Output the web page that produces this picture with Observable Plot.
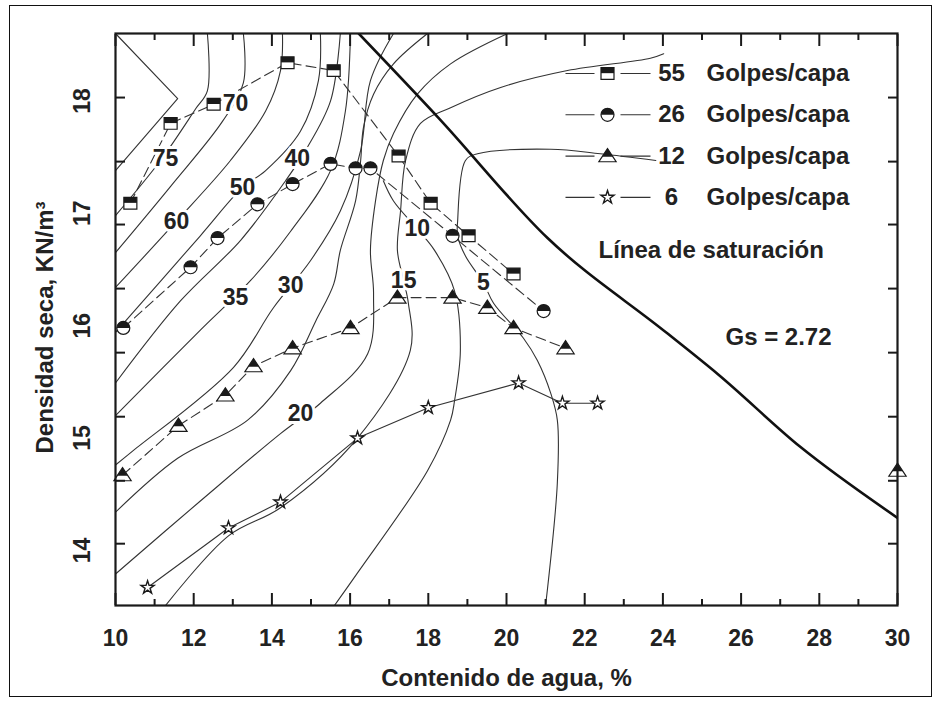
<!DOCTYPE html>
<html>
<head>
<meta charset="utf-8">
<script src="https://cdn.jsdelivr.net/npm/d3@7"></script>
<script src="https://cdn.jsdelivr.net/npm/@observablehq/plot@0.6"></script>
<style>
  body { margin: 0; background: #fff; }
  #wrap { position: relative; width: 939px; height: 704px; }
  #wrap .border { position: absolute; left: 9px; top: 5px; width: 923px; height: 692px;
    border: 1.5px solid #111; box-sizing: border-box; pointer-events: none; }
</style>
</head>
<body>
<div id="wrap"><div class="border"></div></div>
<script>
// Compaction curves: water content (%) vs dry unit weight (kN/m3)
const blows55 = [[10.38,17.09],[11.41,17.80],[12.51,17.97],[14.40,18.34],[15.58,18.27],[17.24,17.51],[18.06,17.09],[19.03,16.80],[20.18,16.46]];
const blows26 = [[10.20,15.98],[11.92,16.52],[12.61,16.78],[13.63,17.08],[14.53,17.26],[15.50,17.44],[16.14,17.40],[16.52,17.40],[18.62,16.80],[20.95,16.13]];
const blows12 = [[10.18,14.67],[11.61,15.11],[12.81,15.38],[13.53,15.64],[14.53,15.80],[16.01,15.98],[17.21,16.25],[18.62,16.25],[19.51,16.16],[20.18,15.98],[21.51,15.80]];
const blows12Edge = [[30.0,14.71]];
const blows6 = [[10.82,13.67],[12.89,14.20],[14.22,14.43],[16.19,15.00],[18.00,15.27],[20.31,15.49],[21.43,15.31],[22.33,15.31]];

// Zero-air-voids line, Gs = 2.72
const saturation = [[16.22,18.60],[18.26,17.85],[21.05,16.78],[24.12,15.93],[25.40,15.57],[27.52,14.92],[30.00,14.29]];

// Contours of equal strength
const wedge = [[10.0,18.60],[11.59,18.02],[10.0,17.38]];
const contourLines = [
  [[12.35,18.6],[12.35,18.09],[12.05,17.93],[11.15,17.47],[10.0,16.98]],
  [[13.27,18.6],[13.27,18.16],[12.74,17.82],[11.41,17.24],[10.0,16.65]],
  [[14.27,18.6],[14.22,18.27],[13.84,17.91],[12.94,17.47],[11.56,16.93],[10.0,16.34]],
  [[15.24,18.6],[15.19,18.18],[14.73,17.73],[13.84,17.38],[13.25,17.23],[12.17,16.80],[10.0,15.94]],
  [[15.75,18.6],[15.50,18.0],[14.86,17.56],[14.35,17.29],[13.20,16.76],[11.66,16.22],[10.0,15.49]],
  [[16.01,18.6],[15.88,17.91],[15.50,17.38],[14.48,16.84],[13.45,16.40],[12.17,15.96],[10.0,15.20]],
  [[17.11,18.6],[16.52,18.18],[16.27,17.56],[15.75,17.02],[14.99,16.58],[14.04,16.16],[13.02,15.63],[10.46,14.89],[10.0,14.76]],
  [[10.0,14.34],[11.59,14.82],[13.38,15.16],[14.48,15.60],[15.12,16.04],[15.58,16.37],[15.75,16.67],[16.14,17.11],[16.27,17.47],[16.34,17.76],[16.60,18.06],[17.11,18.33],[17.98,18.6]],
  [[10.0,13.79],[12.17,14.44],[14.22,15.04],[15.24,15.31],[16.45,15.75],[16.60,16.28],[16.52,16.67],[16.65,17.11],[16.85,17.47],[17.11,17.71],[17.72,18.06],[18.57,18.33],[20.03,18.6]],
  [[11.28,13.51],[12.89,14.13],[14.22,14.38],[16.19,15.00],[17.54,15.78],[17.49,16.20],[17.37,16.40],[17.21,16.67],[17.29,17.02],[17.42,17.47],[17.80,17.80],[18.57,17.94],[19.85,18.12],[21.56,18.27],[23.68,18.38],[24.02,18.42]],
  [[15.60,13.51],[16.19,13.80],[17.98,14.71],[18.57,15.16],[18.67,15.33],[18.82,15.78],[18.67,16.31],[18.16,16.67],[17.72,16.86],[17.11,17.11],[16.85,17.29]],
  [[21.00,13.51],[21.30,14.60],[21.30,15.16],[21.13,15.40],[20.79,15.69],[20.43,15.89],[19.67,16.20],[19.41,16.38],[18.95,16.62],[18.75,16.80],[18.75,16.93],[18.95,17.47],[19.26,17.53],[21.13,17.57],[22.40,17.53],[23.82,17.47]]
];
const contourLabels = [
  {t:"75", w:11.28, g:17.49}, {t:"70", w:13.07, g:17.98}, {t:"60", w:11.56, g:16.93},
  {t:"50", w:13.25, g:17.23}, {t:"40", w:14.65, g:17.49}, {t:"35", w:13.07, g:16.25},
  {t:"30", w:14.48, g:16.36}, {t:"20", w:14.73, g:15.22}, {t:"10", w:17.72, g:16.86},
  {t:"15", w:17.37, g:16.40}, {t:"5", w:19.41, g:16.38}
];

// Axis ticks and labels
const xTickLabels = [10,12,14,16,18,20,22,24,26,28,30];
const xMinorTicks = [11,13,15,17,19,21,23,25,27,29];
const yTickLabels = [14,15,16,17,18];
const yTickMarks = [18.03,17.46,16.90,16.33,15.76,15.19,14.62,14.06];

const legendRows = [
  {n:"55", marker:"square"}, {n:"26", marker:"circle"}, {n:"12", marker:"triangle"}, {n:"6", marker:"star"}
];

// Marker glyphs
const rad = s => Math.sqrt(s / Math.PI);
const sqOutline = {draw(c, s) { const r = rad(s); c.rect(-r, -r*0.9, 2*r, 1.8*r); }};
const sqTop = {draw(c, s) { const r = rad(s); c.rect(-r, -r*0.9, 2*r, 0.85*r); }};
const ciTop = {draw(c, s) { const r = rad(s); c.moveTo(r, 0); c.arc(0, 0, r, 0, Math.PI, true); c.closePath(); }};
const triOutline = {draw(c, s) { const r = rad(s); c.moveTo(0, -r); c.lineTo(r*1.15, r*0.75); c.lineTo(-r*1.15, r*0.75); c.closePath(); }};
const triTop = {draw(c, s) { const r = rad(s), k = 0.62; c.moveTo(0, -r); c.lineTo(r*1.15*k, -r + 1.75*r*k); c.lineTo(-r*1.15*k, -r + 1.75*r*k); c.closePath(); }};
const legendRule = {draw(c) { c.moveTo(-42, 0); c.lineTo(-13, 0); c.moveTo(13, 0); c.lineTo(43, 0); }};

const X = d => d[0], Y = d => d[1];
const font = "Liberation Sans, Arial, Helvetica, sans-serif";
const ink = "#1a1a1a";
const textInk = "#222";

function markerMarks(data, kind, pos) {
  const m = [];
  if (kind === "square") {
    m.push(Plot.dot(data, {...pos, symbol: sqOutline, r: 6.5, fill: "white", stroke: ink, strokeWidth: 1.2}));
    m.push(Plot.dot(data, {...pos, symbol: sqTop, r: 6.5, fill: ink}));
  } else if (kind === "circle") {
    m.push(Plot.dot(data, {...pos, r: 6.5, fill: "white", stroke: ink, strokeWidth: 1.2}));
    m.push(Plot.dot(data, {...pos, symbol: ciTop, r: 6.5, fill: ink}));
  } else if (kind === "triangle") {
    m.push(Plot.dot(data, {...pos, symbol: triOutline, r: 7.5, fill: "white", stroke: ink, strokeWidth: 1.2}));
    m.push(Plot.dot(data, {...pos, symbol: triTop, r: 7.5, fill: ink}));
  } else {
    m.push(Plot.dot(data, {...pos, symbol: "star", r: 4.1, fill: "white", stroke: ink, strokeWidth: 1.4}));
  }
  return m;
}

function legendMarks(row, i) {
  const dy = 40 + i * 41.3;
  const at = {frameAnchor: "top-left", dx: 492, dy};
  const one = [row];
  return [
    Plot.dot(one, {...at, symbol: legendRule, r: 1, stroke: "#333", strokeWidth: 1.1, fill: "none"}),
    ...markerMarks(one, row.marker, at),
    Plot.text(one, {frameAnchor: "top-left", dx: 556, dy, text: "n", textAnchor: "middle", lineAnchor: "middle", fontSize: 24, fontWeight: "bold", fill: textInk}),
    Plot.text(one, {frameAnchor: "top-left", dx: 591, dy, text: () => "Golpes/capa", textAnchor: "start", lineAnchor: "middle", fontSize: 24, fontWeight: "bold", fill: textInk})
  ];
}

const contourRows = contourLines.flatMap((pts, id) => pts.map(p => ({w: p[0], g: p[1], id})));
const xy = {x: X, y: Y};

const chart = Plot.plot({
  width: 939,
  height: 704,
  marginLeft: 115,
  marginRight: 42,
  marginTop: 33,
  marginBottom: 99,
  style: {fontFamily: font, background: "white", color: ink},
  x: {domain: [10, 30]},
  y: {domain: [13.51, 18.6]},
  marks: [
    // equal-strength contours
    Plot.line(wedge, {...xy, stroke: "#333", strokeWidth: 1.1, clip: true}),
    Plot.line(contourRows, {x: "w", y: "g", z: "id", curve: "catmull-rom", stroke: "#333", strokeWidth: 1.1, clip: true}),
    // compaction curves
    Plot.line(blows55, {...xy, stroke: "#333", strokeWidth: 1.1, strokeDasharray: "10,5"}),
    Plot.line(blows26, {...xy, stroke: "#333", strokeWidth: 1.1, strokeDasharray: "10,5"}),
    Plot.line(blows12, {...xy, stroke: "#333", strokeWidth: 1.1, strokeDasharray: "10,5"}),
    Plot.line(blows6, {...xy, stroke: "#333", strokeWidth: 1.1}),
    // saturation line
    Plot.line(saturation, {...xy, curve: "monotone-x", stroke: "#111", strokeWidth: 2.6, clip: true}),
    // contour labels
    Plot.text(contourLabels, {x: "w", y: "g", text: "t", fontSize: 23, fontWeight: "bold", fill: textInk,
      stroke: "white", strokeWidth: 6, paintOrder: "stroke"}),
    ...markerMarks(blows55, "square", xy),
    ...markerMarks(blows26, "circle", xy),
    ...markerMarks(blows12, "triangle", xy),
    ...markerMarks(blows12Edge, "triangle", xy),
    ...markerMarks(blows6, "star", xy),
    // legend and annotations
    ...legendRows.flatMap(legendMarks),
    Plot.text(["Línea de saturación"], {frameAnchor: "top-left", dx: 483, dy: 217, textAnchor: "start", lineAnchor: "middle", fontSize: 24, fontWeight: "bold", fill: textInk}),
    Plot.text(["Gs = 2.72"], {frameAnchor: "top-left", dx: 663, dy: 304, textAnchor: "middle", lineAnchor: "middle", fontSize: 24, fontWeight: "bold", fill: textInk}),
    // axes: inward ticks on all four sides
    Plot.axisX({anchor: "bottom", ticks: xTickLabels, tickSize: -12, tickFormat: () => "", label: null, strokeWidth: 2}),
    Plot.axisX({anchor: "bottom", ticks: xMinorTicks, tickSize: -6, tickFormat: () => "", label: null, strokeWidth: 2}),
    Plot.axisX({anchor: "top", ticks: xTickLabels, tickSize: -12, tickFormat: () => "", label: null, strokeWidth: 2}),
    Plot.axisX({anchor: "top", ticks: xMinorTicks, tickSize: -6, tickFormat: () => "", label: null, strokeWidth: 2}),
    Plot.axisY({anchor: "left", ticks: yTickMarks, tickSize: -10, tickFormat: () => "", label: null, strokeWidth: 2}),
    Plot.axisY({anchor: "right", ticks: yTickMarks, tickSize: -10, tickFormat: () => "", label: null, strokeWidth: 2}),
    Plot.text(xTickLabels, {x: d => d, frameAnchor: "bottom", dy: 33, text: d => String(d), textAnchor: "middle", lineAnchor: "middle", fontSize: 23, fontWeight: "bold", fill: textInk}),
    Plot.text(yTickLabels, {y: d => d, frameAnchor: "left", dx: -33, rotate: -90, text: d => String(d), textAnchor: "middle", lineAnchor: "middle", fontSize: 23, fontWeight: "bold", fill: textInk}),
    Plot.text(["Contenido de agua, %"], {frameAnchor: "bottom", dy: 73, textAnchor: "middle", lineAnchor: "middle", fontSize: 24, fontWeight: "bold", fill: textInk}),
    Plot.text(["Densidad seca, KN/m³"], {frameAnchor: "left", dx: -70, dy: 8, rotate: -90, textAnchor: "middle", lineAnchor: "middle", fontSize: 24, fontWeight: "bold", fill: textInk}),
    Plot.frame({stroke: ink, strokeWidth: 2.2})
  ]
});

document.getElementById("wrap").prepend(chart);
</script>
</body>
</html>
